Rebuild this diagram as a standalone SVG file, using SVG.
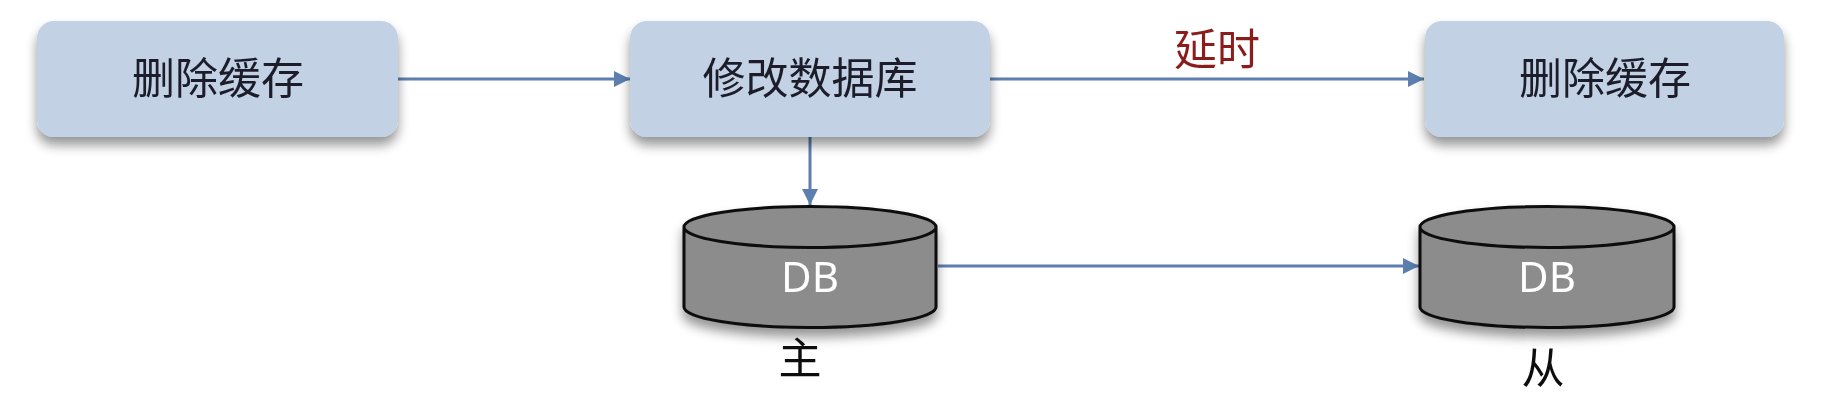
<svg xmlns="http://www.w3.org/2000/svg" width="1836" height="400" viewBox="0 0 1836 400">
<style>
text{font-family:"Noto Sans CJK SC","Noto Sans",sans-serif;text-anchor:middle}
.box{fill:#c3d1e4;filter:url(#sh)}
.lbl{font-size:43px;fill:#1a1f2a}
.cap{font-size:43px;fill:#111}
.db{font-family:"Noto Sans",sans-serif;font-size:42px;fill:#fff}
.cy{fill:#8c8c8c;stroke:#0d0d0d;stroke-width:3;filter:url(#sh)}
.cn{fill:none;stroke:#5b7fb0;stroke-width:3;marker-end:url(#ah)}
</style>
<defs>
<filter id="sh" x="-10%" y="-20%" width="120%" height="160%"><feGaussianBlur in="SourceAlpha" stdDeviation="6"/><feOffset dy="8"/><feComponentTransfer><feFuncA type="linear" slope="0.42"/></feComponentTransfer><feMerge><feMergeNode/><feMergeNode in="SourceGraphic"/></feMerge></filter>
<filter id="soft" x="0" y="0" width="100%" height="100%" filterUnits="userSpaceOnUse" primitiveUnits="userSpaceOnUse"><feGaussianBlur stdDeviation="0.6"/></filter>
<marker id="ah" markerUnits="userSpaceOnUse" markerWidth="17" markerHeight="17" refX="16" refY="8" orient="auto"><path d="M0 0L16 8L0 16Z" fill="#5b7fb0"/></marker>
</defs>
<g filter="url(#soft)">
<rect x="0" y="0" width="1836" height="400" fill="#fff"/>
<g id="connectors">
<path class="cn" d="M398 79H630"/>
<path class="cn" d="M990 79H1424"/>
<path class="cn" d="M810 137V205"/>
<path class="cn" d="M938 266H1419"/>
</g>
<g id="n1"><rect class="box" x="37" y="21" width="361" height="116" rx="17"/><text class="lbl" x="218" y="94">删除缓存</text></g>
<g id="n2"><rect class="box" x="630" y="21" width="360" height="116" rx="17"/><text class="lbl" x="810" y="94">修改数据库</text></g>
<g id="n3"><rect class="box" x="1425" y="21" width="359" height="116" rx="17"/><text class="lbl" x="1605" y="94">删除缓存</text></g>
<g id="delay"><text x="1217" y="65" font-size="43" fill="#8b1a1a">延时</text></g>
<g id="db1"><path class="cy" d="M684 227V307A126 20.5 0 0 0 936 307V227A126 20.5 0 0 0 684 227A126 20.5 0 0 0 936 227"/><text class="db" x="810" y="292">DB</text></g>
<text id="l1" class="cap" x="800" y="374">主</text>
<g id="db2"><path class="cy" d="M1420 227V307A127 20.5 0 0 0 1674 307V227A127 20.5 0 0 0 1420 227A127 20.5 0 0 0 1674 227"/><text class="db" x="1547" y="292">DB</text></g>
<text id="l2" class="cap" x="1543" y="384">从</text>
</g>
</svg>
